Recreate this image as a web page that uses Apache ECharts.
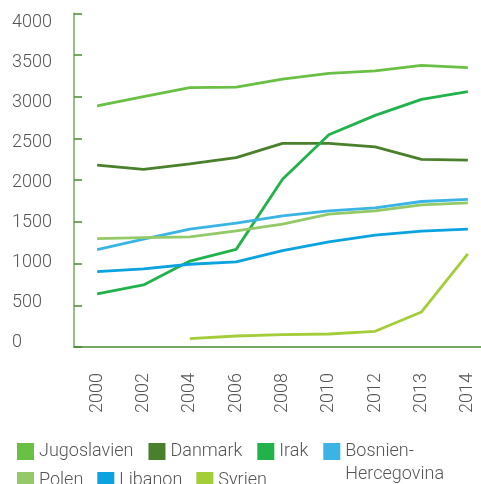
<!DOCTYPE html>
<html>
<head>
<meta charset="utf-8">
<script src="https://cdn.jsdelivr.net/npm/echarts@6/dist/echarts.min.js"></script>
<style>
html, body { margin: 0; padding: 0; background: #fff; }
#myChart { width: 481px; height: 484px; }
</style>
</head>
<body>
<div id="myChart"></div>
<script>
// årtal på x-axeln
let years = ["2000", "2002", "2004", "2006", "2008", "2010", "2012", "2013", "2014"];
let yTicks = [0, 500, 1000, 1500, 2000, 2500, 3000, 3500, 4000];

let jugoslavien = [2890, 3000, 3110, 3115, 3210, 3280, 3310, 3375, 3350];
let danmark = [2180, 2130, 2195, 2270, 2440, 2440, 2400, 2250, 2240];
let irak = [636, 744, 1030, 1170, 2010, 2544, 2776, 2968, 3060];
let bosnien = [1168, 1292, 1412, 1484, 1572, 1632, 1668, 1744, 1770];
let polen = [1300, 1312, 1320, 1392, 1472, 1592, 1632, 1704, 1728];
let libanon = [904, 936, 992, 1020, 1156, 1260, 1340, 1388, 1412];
let syrien = [null, null, 100, 132, 148, 156, 188, 420, 1116];

let font = "Roboto";
let grey = "#555";

function line(name, data, color) {
  return {
    name: name,
    type: "line",
    data: data,
    yAxisIndex: 0,
    symbol: "none",
    smooth: false,
    connectNulls: false,
    itemStyle: { color: color },
    lineStyle: { color: color, width: 2.8 }
  };
}

let myChart = echarts.init(document.getElementById("myChart"));
let option = {
  animation: false,
  textStyle: { fontFamily: font },
  // rutnätet går en bit utanför bilden till höger, som i originalet
  grid: { left: 74, width: 417, top: 13.3, bottom: 137, containLabel: false, outerBoundsMode: "none" },
  legend: [
    {
      left: 12,
      top: 412,
      itemWidth: 17,
      itemHeight: 17,
      itemGap: 15,
      icon: "rect",
      selectedMode: false,
      textStyle: { fontFamily: font, fontWeight: 300, fontSize: 18, color: grey, lineHeight: 23 },
      data: ["Jugoslavien", "Danmark", "Irak", "Bosnien-Hercegovina"],
      formatter: function (n) {
        // tom första rad så att "Bosnien-" hamnar mitt för rutan
        return n == "Bosnien-Hercegovina" ? " \nBosnien-\nHercegovina" : n;
      }
    },
    {
      left: 12,
      top: 464,
      itemWidth: 17,
      itemHeight: 17,
      itemGap: 14,
      icon: "rect",
      selectedMode: false,
      textStyle: { fontFamily: font, fontWeight: 300, fontSize: 18, color: grey, lineHeight: 23 },
      data: ["Polen", "Libanon", "Syrien"]
    }
  ],
  xAxis: {
    type: "category",
    data: years,
    boundaryGap: true,
    axisLine: { lineStyle: { color: "#4a8a30", width: 1.5 } },
    axisTick: { inside: true, length: 7, lineStyle: { color: "#4a8a30", width: 1.5 } },
    axisLabel: {
      rotate: 90,
      margin: 26,
      fontFamily: font,
      fontWeight: 300,
      fontSize: 18,
      color: grey
    },
    splitLine: { show: false }
  },
  yAxis: [
    {
      type: "value",
      min: 0,
      max: 4000,
      interval: 500,
      axisLine: { show: true, lineStyle: { color: "#78a860", width: 1.5 } },
      axisTick: { show: true, inside: true, length: 8, lineStyle: { color: "#4a8a30", width: 1.5 } },
      axisLabel: { show: false },
      splitLine: { show: false }
    },
    {
      // bara etiketterna, lite tätare än strecken som i originalet
      type: "value",
      position: "left",
      min: -56.5,
      max: 4114.5,
      axisLine: { show: false },
      axisTick: { show: false },
      splitLine: { show: false },
      axisLabel: {
        customValues: yTicks,
        formatter: function (v) { return String(v); },
        align: "left",
        margin: 62,
        fontFamily: font,
        fontWeight: 300,
        fontSize: 18,
        color: grey
      }
    }
  ],
  series: [
    line("Jugoslavien", jugoslavien, "#6abf45"),
    line("Danmark", danmark, "#4a7f2c"),
    line("Irak", irak, "#22b24c"),
    line("Bosnien-Hercegovina", bosnien, "#3bb3e5"),
    line("Polen", polen, "#93c967"),
    line("Libanon", libanon, "#0aa2df"),
    line("Syrien", syrien, "#a4cd3a")
  ]
};
myChart.setOption(option);
</script>
</body>
</html>
